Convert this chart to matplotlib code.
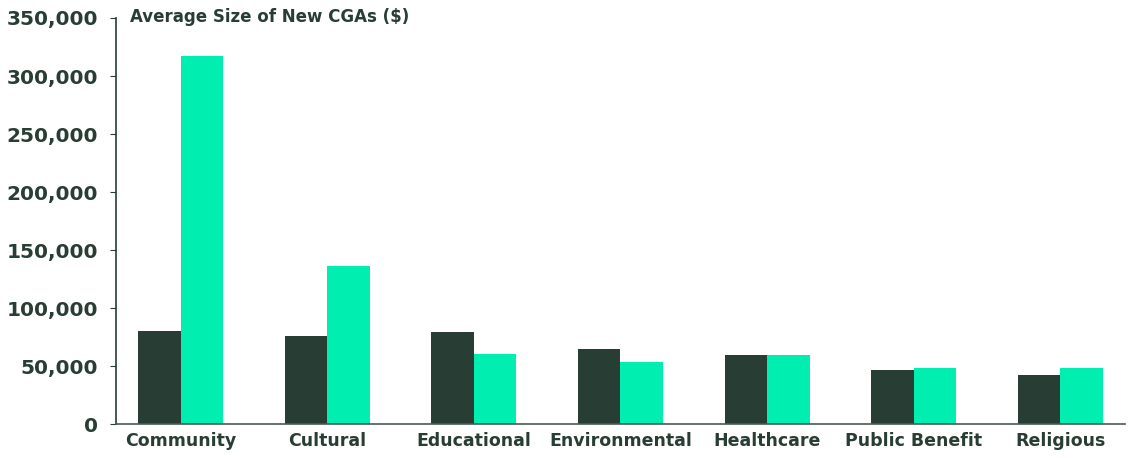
import numpy as np
import matplotlib.pyplot as plt
from matplotlib.ticker import FuncFormatter

categories = ["Community", "Cultural", "Educational", "Environmental",
              "Healthcare", "Public Benefit", "Religious"]
series_dark = [80500, 75500, 79500, 64500, 59500, 46500, 42000]
series_green = [317000, 136500, 60000, 53500, 59500, 48000, 48000]
yticks = [0, 50000, 100000, 150000, 200000, 250000, 300000, 350000]

dark = "#283d33"
green = "#00efb0"

plt.rcParams['font.family'] = ['DejaVu Sans']

fig = plt.figure(figsize=(11.31, 4.58), dpi=100)
ax = fig.add_axes([0.1026, 0.0742, 0.892, 0.8865])

x = np.arange(len(categories))
w = 0.29
ax.bar(x - w / 2, series_dark, w, color=dark, zorder=2)
ax.bar(x + w / 2, series_green, w, color=green, zorder=2)

ax.set_xlim(-0.44, len(categories) - 1 + 0.44)
ax.set_ylim(0, 350000)
ax.set_yticks(yticks)
ax.yaxis.set_major_formatter(FuncFormatter(lambda v, p: f"{int(v):,}"))
ax.set_xticks(x)
ax.set_xticklabels(categories)

for s in ["top", "right"]:
    ax.spines[s].set_visible(False)
ax.spines["left"].set_color(dark)
ax.spines["bottom"].set_color("#4a5a52")
ax.spines["left"].set_linewidth(1.2)
ax.spines["bottom"].set_linewidth(1.2)
ax.spines["bottom"].set_zorder(3)

ax.tick_params(axis="y", length=4, color=dark, labelsize=14.5, labelcolor=dark, pad=9)
ax.tick_params(axis="x", length=0, labelsize=12.5, labelcolor=dark, pad=6)
for lbl in ax.get_yticklabels() + ax.get_xticklabels():
    lbl.set_fontweight("bold")

fig.text(0.115, 0.963, "Average Size of New CGAs ($)", fontsize=12,
         fontweight="bold", color=dark, ha="left", va="center")

fig.savefig("out.png", dpi=100)
